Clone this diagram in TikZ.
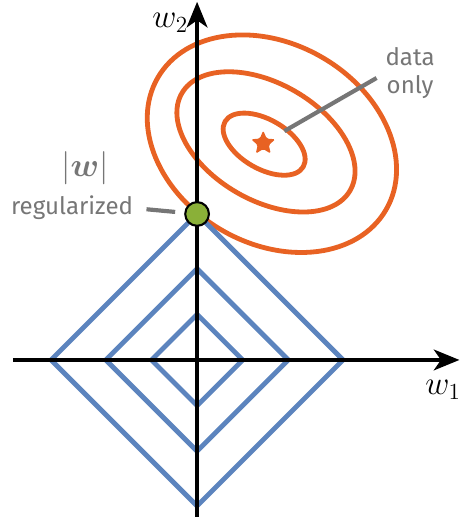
\documentclass[tikz,border=0pt]{standalone}
\usepackage{fontspec}
\usepackage{amsmath,bm}
\setsansfont{Fira Sans}
\usetikzlibrary{arrows.meta,shapes.geometric}

\definecolor{lossorange}{RGB}{232,98,35}
\definecolor{normblue}{RGB}{92,132,190}
\definecolor{optgreen}{RGB}{138,176,56}
\definecolor{notegray}{RGB}{118,118,118}

\begin{document}
\begin{tikzpicture}[
		axis/.style={line width=2pt,-{Stealth[length=16pt,width=13pt,inset=4.5pt]}},
		contour/.style={lossorange,line width=3pt},
		level/.style={normblue,line width=3pt,line join=miter},
		leader/.style={notegray,line width=2.6pt},
		note/.style={notegray,inner sep=0pt,align=center,font=\sffamily\fontsize{15}{17}\selectfont},
		lbl/.style={inner sep=0pt,font=\fontsize{22}{26}\selectfont}]
		\useasboundingbox (-4.32,-3.53) rectangle (5.77,7.89);
		% loss contours
		\draw[contour,rotate around={-30:(1.47,4.73)}] (1.47,4.73) ellipse [x radius=0.99, y radius=0.54];
		\draw[contour,rotate around={-30:(1.51,4.78)}] (1.51,4.78) ellipse [x radius=2.13, y radius=1.28];
		\draw[contour,rotate around={-30:(1.64,4.74)}] (1.64,4.74) ellipse [x radius=2.89, y radius=2.19];
		% norm balls
		\foreach \r in {1,2,3.2}
			\draw[level] (\r,0) -- (0,\r) -- (-\r,0) -- (0,-\r) -- cycle;
		% axes
		\coordinate (xs) at (-4.04,0);
		\coordinate (xe) at (5.75,0);
		\coordinate (ys) at (0,-3.44);
		\coordinate (ye) at (0,7.85);
		\draw[axis] (xs) -- (xe);
		\draw[axis] (ys) -- (ye);
		\node[lbl] (w1) at (5.39,-0.66) {$w_1$};
		\node[lbl] (w2) at (-0.59,7.4) {$w_2$};
		% optima
		\node[circle,fill=optgreen,draw=black,line width=1.3pt,minimum size=0.52cm,inner sep=0pt] (opt) at (0,3.2) {};
		\node[star,star points=5,star point ratio=2.2,fill=lossorange,minimum size=0.56cm,inner sep=0pt,rounded corners=1pt] (best) at (1.45,4.75) {};
		% notes
		\node[note] (data) at (4.67,6.29) {data\\only};
		\node[note,font=\fontsize{22}{26}\selectfont] (wabs) at (-2.46,4.21) {$|\bm{w}|$};
		\node[note] (reg) at (-2.74,3.33) {regularized};
		\draw[leader,shorten <=0.33cm,shorten >=0.22cm] (best) -- (data.west);
		\draw[leader,shorten <=0.29cm,shorten >=0.2cm] (reg.east) -- (opt);
	\end{tikzpicture}
\end{document}
